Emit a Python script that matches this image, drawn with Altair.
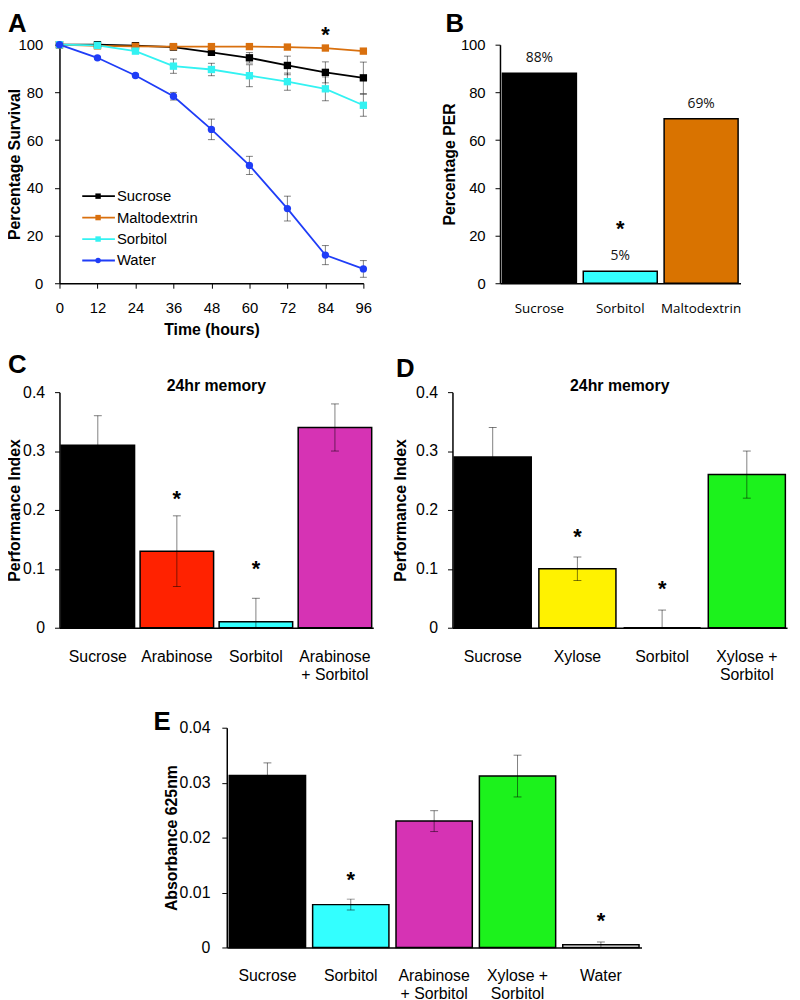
import altair as alt
import pandas as pd

FONT = "Liberation Sans"
FONT2 = "Open Sans"

# ---------------- Panel A data ----------------
hours = [0, 12, 24, 36, 48, 60, 72, 84, 96]
series_a = ["Sucrose", "Maltodextrin", "Sorbitol", "Water"]
colors_a = ["#000000", "#D9700E", "#33F2F2", "#1F3DF7"]
shapes_a = ["square", "square", "square", "circle"]
sucrose_surv = [100, 100, 99.6, 99.0, 96.8, 94.5, 91.3, 88.4, 86.1]
sucrose_err = [0, 0.8, 0.6, 0.6, 1.2, 2.2, 3.9, 4.4, 6.6]
malto_surv = [100, 99.5, 99.3, 99.2, 99.2, 99.2, 99.0, 98.6, 97.3]
malto_err = [0, 0.3, 0.3, 0.3, 0.3, 0.3, 0.3, 0.4, 0.5]
sorb_surv = [100, 99.7, 97.3, 91.0, 89.6, 87.0, 84.5, 81.5, 74.6]
sorb_err = [0, 0.5, 0.8, 3.0, 2.6, 4.6, 3.6, 5.0, 4.6]
water_surv = [100, 94.5, 87.1, 78.4, 64.5, 49.4, 31.3, 11.8, 6.0]
water_err = [0, 0.6, 0.6, 1.6, 4.3, 3.8, 5.2, 4.0, 3.5]
star_a_hours = [84]
star_a_vals = [105]

# ---------------- Panel B data ----------------
cats_b = ["Sucrose", "Sorbitol", "Maltodextrin"]
per_b = [88, 5, 69]
pct_b = ["88%", "5%", "69%"]
colors_b = ["#000000", "#33FFFF", "#D97300"]
star_b_cats = ["Sorbitol"]
star_b_vals = [23.5]

# ---------------- Panel C data ----------------
cats_c = ["Sucrose", "Arabinose", "Sorbitol", "Arabinose\n+ Sorbitol"]
pi_c = [0.31, 0.13, 0.01, 0.34]
err_c = [0.05, 0.06, 0.04, 0.04]
colors_c = ["#000000", "#FF2200", "#33FFFF", "#D633B4"]
star_c_cats = ["Arabinose", "Sorbitol"]
star_c_vals = [0.222, 0.103]

# ---------------- Panel D data ----------------
cats_d = ["Sucrose", "Xylose", "Sorbitol", "Xylose +\nSorbitol"]
pi_d = [0.29, 0.10, 0.0, 0.26]
err_d = [0.05, 0.02, 0.03, 0.04]
colors_d = ["#000000", "#FFF200", "#33FFFF", "#1CF21C"]
star_d_cats = ["Xylose", "Sorbitol"]
star_d_vals = [0.158, 0.069]

# ---------------- Panel E data ----------------
cats_e = ["Sucrose", "Sorbitol", "Arabinose\n+ Sorbitol", "Xylose +\nSorbitol", "Water"]
abs_e = [0.0313, 0.0078, 0.0230, 0.0312, 0.0005]
err_e = [0.0023, 0.0010, 0.0019, 0.0038, 0.0005]
colors_e = ["#000000", "#33FFFF", "#D633B4", "#1CF21C", "#FFFFFF"]
star_e_cats = ["Sorbitol", "Water"]
star_e_vals = [0.0127, 0.0052]

ERR_COLOR = "#000000"
ERR_OPACITY = 0.5
STAR_DY = 2


def y_axis(values, title, title_x, label_size, fmt=None, label_pad=10):
    kw = dict(values=values, title=title, titleX=title_x, titleBaseline="middle",
              titleFont=FONT, titleFontSize=16, titleFontWeight="bold", titleColor="black",
              labelFont=FONT, labelFontSize=label_size, labelPadding=label_pad, labelColor="black",
              tickSize=5, domainWidth=1.5, domainColor="black", tickColor="black", grid=False)
    if fmt:
        kw["format"] = fmt
    return alt.Axis(**kw)


def text_layer(txt, dx, dy, size=26, align="left", baseline="top"):
    return alt.Chart(pd.DataFrame({"t": [txt]})).mark_text(
        font=FONT, fontSize=size, fontWeight="bold", align=align, baseline=baseline, color="black"
    ).encode(x=alt.value(dx), y=alt.value(dy), text="t:N")


def pin_layer(dy):
    # invisible point that fixes how far a row reaches downwards
    return alt.Chart(pd.DataFrame({"t": [0]})).mark_point(opacity=0, size=1).encode(
        x=alt.value(0), y=alt.value(dy))


# ---------------- Panel A ----------------
rows = []
for name, vals, errs in zip(series_a, [sucrose_surv, malto_surv, sorb_surv, water_surv],
                            [sucrose_err, malto_err, sorb_err, water_err]):
    for h, v, e in zip(hours, vals, errs):
        rows.append({"series": name, "hours": h, "value": v, "lo": v - e, "hi": v + e, "err": e})
df_a = pd.DataFrame(rows)

axisA_x = alt.Axis(values=hours, title="Time (hours)", titleY=47, titleBaseline="middle",
                   titleFont=FONT, titleFontSize=16, titleFontWeight="bold", titleColor="black",
                   labelFont=FONT, labelFontSize=15, labelPadding=13, labelColor="black",
                   labelOverlap=False, labelFlush=False, tickCount=9,
                   tickSize=5, domainWidth=1.5, domainColor="black", tickColor="black", grid=False)
xA = alt.X("hours:Q", scale=alt.Scale(domain=[0, 96], nice=False), axis=axisA_x)
yscaleA = alt.Scale(domain=[0, 100], nice=False)
yA = alt.Y("value:Q", scale=yscaleA,
           axis=y_axis([0, 20, 40, 60, 80, 100], "Percentage Survival", -45, 15, label_pad=12))
colA = alt.Color("series:N", scale=alt.Scale(domain=series_a, range=colors_a), legend=None)
shpA = alt.Shape("series:N", scale=alt.Scale(domain=series_a, range=shapes_a), legend=None)

baseA = alt.Chart(df_a)
errA = baseA.mark_rule(color=ERR_COLOR, opacity=ERR_OPACITY, strokeWidth=1).encode(
    x=xA, y=alt.Y("lo:Q", scale=yscaleA), y2="hi:Q").transform_filter("datum.err > 0")
capA_lo = baseA.mark_tick(color=ERR_COLOR, opacity=ERR_OPACITY, orient="horizontal", size=7, thickness=1).encode(
    x=xA, y=alt.Y("lo:Q", scale=yscaleA)).transform_filter("datum.err > 0")
capA_hi = baseA.mark_tick(color=ERR_COLOR, opacity=ERR_OPACITY, orient="horizontal", size=7, thickness=1).encode(
    x=xA, y=alt.Y("hi:Q", scale=yscaleA)).transform_filter("datum.err > 0")
linesA = baseA.mark_line(strokeWidth=1.8).encode(x=xA, y=yA, color=colA, detail="series:N")
ptsA = baseA.mark_point(filled=True, size=55, opacity=1).encode(x=xA, y=yA, color=colA, shape=shpA)
starA = alt.Chart(pd.DataFrame({"hours": star_a_hours, "value": star_a_vals})).mark_text(
    text="*", font=FONT, fontSize=22, fontWeight="bold", baseline="middle", dy=STAR_DY, color="black"
).encode(x=xA, y=alt.Y("value:Q", scale=yscaleA))

main_A = alt.layer(linesA, errA, capA_lo, capA_hi, ptsA, starA)

leg_df = pd.DataFrame({"series": series_a})
legY = alt.Y("series:N", sort=series_a, scale=alt.Scale(type="point", range=[153, 218], padding=0), axis=None)
leg_rule = alt.Chart(leg_df).mark_rule(strokeWidth=1.8).encode(
    x=alt.value(23), x2=alt.value(56), y=legY, color=colA)
leg_pt = alt.Chart(leg_df).mark_point(filled=True, size=30, opacity=1).encode(
    x=alt.value(39), y=legY, color=colA, shape=shpA)
leg_txt = alt.Chart(leg_df).mark_text(font=FONT, fontSize=15, align="left", baseline="middle", color="black").encode(
    x=alt.value(58), y=legY, text="series:N")
legend_A = alt.layer(leg_rule, leg_pt, leg_txt)

panel_A = alt.layer(main_A, legend_A, text_layer("A", -52, -34), pin_layer(310.5)).resolve_scale(
    y="independent").properties(width=307, height=241)


# ---------------- Bar panel helper ----------------
def bar_panel(cats, vals, errs, colors, star_cats, star_vals, ymax, yticks, ytitle, title_x,
              width, height, letter, letter_xy, pad_inner, pad_outer, fmt=None, title=None,
              label_font=FONT, label_size=16, label_pad=21, y_label_size=16, y_label_pad=10,
              pct=None, pin=None):
    df = pd.DataFrame({"cat": cats, "val": vals})
    if errs is not None:
        df["lo"] = [round(max(v - e, 0), 6) for v, e in zip(vals, errs)]
        df["hi"] = [round(v + e, 6) for v, e in zip(vals, errs)]
    if pct is not None:
        df["pct"] = pct
    yscale = alt.Scale(domain=[0, ymax], nice=False)
    xaxis = alt.Axis(title=None, ticks=False, tickSize=0, labelAngle=0, labelFont=label_font,
                     labelFontSize=label_size, labelPadding=label_pad, labelColor="black",
                     labelExpr="split(datum.label, '\\n')", labelLineHeight=18.5,
                     domainWidth=1.5, domainColor="black", grid=False)
    x = alt.X("cat:N", sort=cats, scale=alt.Scale(paddingInner=pad_inner, paddingOuter=pad_outer), axis=xaxis)
    y = alt.Y("val:Q", scale=yscale, axis=y_axis(yticks, ytitle, title_x, y_label_size, fmt, y_label_pad))
    base = alt.Chart(df)
    layers = [base.mark_bar(stroke="black", strokeWidth=1.5).encode(
        x=x, y=y, color=alt.Color("cat:N", scale=alt.Scale(domain=cats, range=colors), legend=None))]
    if errs is not None:
        xe = alt.X("cat:N", sort=cats)
        layers.append(base.mark_rule(color=ERR_COLOR, opacity=ERR_OPACITY, strokeWidth=1).encode(
            x=xe, y=alt.Y("lo:Q", scale=yscale), y2="hi:Q"))
        layers.append(base.mark_tick(color=ERR_COLOR, opacity=ERR_OPACITY, orient="horizontal", size=8,
                                     thickness=1).encode(x=xe, y=alt.Y("hi:Q", scale=yscale)))
        layers.append(base.mark_tick(color=ERR_COLOR, opacity=ERR_OPACITY, orient="horizontal", size=8,
                                     thickness=1).encode(x=xe, y=alt.Y("lo:Q", scale=yscale)
                                                         ).transform_filter("datum.lo > 0"))
    if pct is not None:
        layers.append(base.mark_text(font=FONT2, fontSize=14, baseline="middle", dy=-15, color="#111111").encode(
            x=alt.X("cat:N", sort=cats), y=alt.Y("val:Q", scale=yscale), text="pct:N"))
    sdf = pd.DataFrame({"cat": star_cats, "val": star_vals})
    layers.append(alt.Chart(sdf).mark_text(text="*", font=FONT, fontSize=22, fontWeight="bold",
                                           baseline="middle", dy=STAR_DY, color="black").encode(
        x=alt.X("cat:N", sort=cats), y=alt.Y("val:Q", scale=yscale)))
    layers.append(text_layer(letter, letter_xy[0], letter_xy[1]))
    if title:
        layers.append(text_layer(title, width / 2, -6, size=16, align="center", baseline="middle"))
    if pin is not None:
        layers.append(pin_layer(pin))
    return alt.layer(*layers).properties(width=width, height=height)


panel_B = bar_panel(cats_b, per_b, None, colors_b, star_b_cats, star_b_vals, 100, [0, 20, 40, 60, 80, 100],
                    "Percentage PER", -51, 243, 241, "B", (-55, -34), 0.085, 0.03,
                    label_font=FONT2, label_size=13.5, label_pad=19, y_label_size=15, pct=pct_b)
panel_C = bar_panel(cats_c, pi_c, err_c, colors_c, star_c_cats, star_c_vals, 0.4, [0, 0.1, 0.2, 0.3, 0.4],
                    "Performance Index", -45, 317, 238, "C", (-52, -40), 0.07, 0.02, fmt="~g",
                    title="24hr memory", pin=319.5)
panel_D = bar_panel(cats_d, pi_d, err_d, colors_d, star_d_cats, star_d_vals, 0.4, [0, 0.1, 0.2, 0.3, 0.4],
                    "Performance Index", -52, 338, 238, "D", (-57, -36), 0.09, 0.02, fmt="~g",
                    title="24hr memory")
panel_E = bar_panel(cats_e, abs_e, err_e, colors_e, star_e_cats, star_e_vals, 0.04,
                    [0, 0.01, 0.02, 0.03, 0.04], "Absorbance 625nm", -56, 419, 222, "E", (-74, -19),
                    0.085, 0.03, fmt="~g", label_pad=20, y_label_pad=12)

spacer_E = alt.Chart(pd.DataFrame({"s": [0]})).mark_point(opacity=0, size=1).encode(
    x=alt.value(0), y=alt.value(0)).properties(width=1, height=1)

row1 = alt.hconcat(panel_A, panel_B, spacing=138, bounds="flush").resolve_scale(
    color="independent", shape="independent")
row2 = alt.hconcat(panel_C, panel_D, spacing=80, bounds="flush").resolve_scale(color="independent")
row3 = alt.hconcat(spacer_E, panel_E, spacing=168, bounds="flush").resolve_scale(color="independent")

chart = alt.vconcat(row1, row2, row3, spacing=0).resolve_scale(
    color="independent", shape="independent").configure_view(stroke=None).properties(
    autosize=alt.AutoSizeParams(type="none"),
    padding={"left": 52, "top": 32, "right": 740, "bottom": 960},
    background="white",
)

chart.save("out.html", embed_options={"renderer": "svg", "actions": False})
